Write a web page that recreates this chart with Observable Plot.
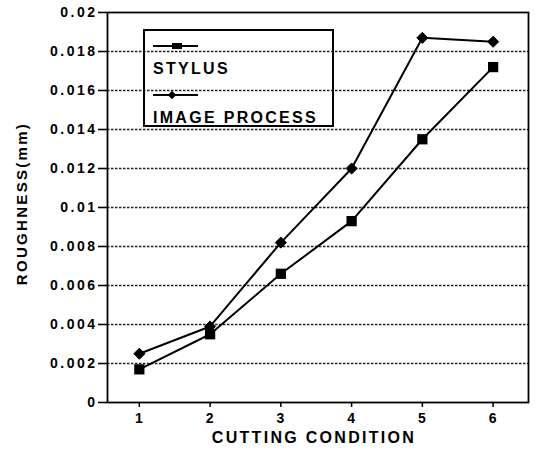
<!DOCTYPE html>
<html><head><meta charset="utf-8">
<script src="https://cdn.jsdelivr.net/npm/d3@7"></script>
<script src="https://cdn.jsdelivr.net/npm/@observablehq/plot@0.6"></script>
<style>
body{margin:0;background:#fff;}
#wrap{position:relative;width:535px;height:451px;overflow:hidden;}
#wrap svg text{font-family:"Liberation Sans",Arial,sans-serif;font-weight:bold;fill:#000;}
g[aria-label="y-axis tick label"] text{letter-spacing:2.5px;}
g[aria-label="x-axis tick label"] text{letter-spacing:1px;}
g[aria-label="text"] text{letter-spacing:2.3px;}
#legend{position:absolute;left:143px;top:29px;}
#legend text{letter-spacing:2.3px;}
</style>
</head><body>
<div id="wrap"></div>
<script>
const conditions = [1, 2, 3, 4, 5, 6];
const stylus = [0.0017, 0.0035, 0.0066, 0.0093, 0.0135, 0.0172];
const imageProcess = [0.0025, 0.0039, 0.0082, 0.0120, 0.0187, 0.0185];
const seriesNames = ["STYLUS", "IMAGE PROCESS"];
const yTicks = [0, 0.002, 0.004, 0.006, 0.008, 0.01, 0.012, 0.014, 0.016, 0.018, 0.02];
const yTickLabels = ["0", "0.002", "0.004", "0.006", "0.008", "0.01", "0.012", "0.014", "0.016", "0.018", "0.02"];
const xTitle = "CUTTING CONDITION";
const yTitle = "ROUGHNESS(mm)";

const data = [];
conditions.forEach((c, i) => {
  data.push({series: seriesNames[0], x: c, y: stylus[i]});
  data.push({series: seriesNames[1], x: c, y: imageProcess[i]});
});
const sData = data.filter(d => d.series === seriesNames[0]);
const iData = data.filter(d => d.series === seriesNames[1]);

const chart = Plot.plot({
  width: 535, height: 451,
  marginLeft: 107, marginRight: 7, marginTop: 12, marginBottom: 49,
  x: {domain: [0.55, 6.5]},
  y: {domain: [0, 0.02]},
  style: {fontFamily: "Liberation Sans, Arial, sans-serif", background: "#fff", color: "#000"},
  marks: [
    Plot.ruleY(yTicks.filter(v => v > 0 && v < 0.02), {stroke: "#222", strokeWidth: 1.3, strokeDasharray: "2.5,1.5"}),
    Plot.frame({stroke: "#000", strokeWidth: 1.8}),
    Plot.axisY({ticks: yTicks, tickFormat: (d) => yTickLabels[yTicks.indexOf(d)], tickSize: 9, tickPadding: 1, fontSize: 14, label: null, strokeWidth: 1.6}),
    Plot.axisX({ticks: conditions, tickFormat: d => String(d), tickSize: 5, tickPadding: 6, fontSize: 14, label: null, strokeWidth: 1.5}),
    Plot.text([xTitle], {frameAnchor: "bottom", dy: 40, dx: -4, fontSize: 16, fontWeight: "bold"}),
    Plot.text([yTitle], {frameAnchor: "left", textAnchor: "middle", dx: -85, dy: -4, rotate: -90, fontSize: 15, fontWeight: "bold"}),
    Plot.line(sData, {x: "x", y: "y", stroke: "#000", strokeWidth: 2}),
    Plot.line(iData, {x: "x", y: "y", stroke: "#000", strokeWidth: 2}),
    Plot.dot(sData, {x: "x", y: "y", symbol: "square", r: 5.8, fill: "#000"}),
    Plot.dot(iData, {x: "x", y: "y", symbol: "diamond2", r: 5, fill: "#000", stroke: "#000", strokeWidth: 1})
  ]
});
document.getElementById("wrap").appendChild(chart);

// Legend box
const lg = d3.select("#wrap").append("svg").attr("id", "legend")
  .attr("width", 192).attr("height", 99);
lg.append("rect").attr("x", 1).attr("y", 1).attr("width", 189).attr("height", 96)
  .attr("fill", "none").attr("stroke", "#000").attr("stroke-width", 2);
const items = lg.selectAll("g.item").data(seriesNames).join("g")
  .attr("transform", (d, i) => `translate(0,${i * 49})`);
items.append("line").attr("x1", 10).attr("x2", 55).attr("y1", 17).attr("y2", 17)
  .attr("stroke", "#000").attr("stroke-width", 2);
items.each(function(d, i) {
  const g = d3.select(this);
  if (i === 0) {
    g.append("rect").attr("x", 29).attr("y", 14).attr("width", 10).attr("height", 6).attr("fill", "#000");
  } else {
    g.append("path").attr("d", d3.symbol(d3.symbolSquare, 36)()).attr("transform", "translate(29,17) rotate(45)").attr("fill", "#000");
  }
});
items.append("text").attr("x", 10).attr("y", 45).attr("font-size", 16).text(d => d);
</script>
</body></html>
